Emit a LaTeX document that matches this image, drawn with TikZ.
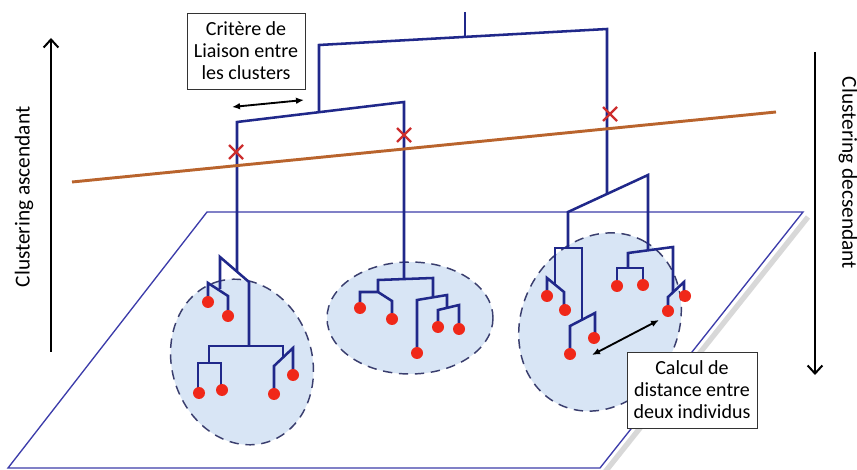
\documentclass[tikz,border=0pt]{standalone}
\usepackage{fontspec}
\setmainfont{Carlito}
\usepackage{xcolor}
\usetikzlibrary{arrows.meta, positioning}

\definecolor{dendro}{RGB}{32,40,138}
\definecolor{planeedge}{RGB}{60,60,170}
\definecolor{clusterfill}{RGB}{216,229,245}
\definecolor{clusteredge}{RGB}{58,62,110}
\definecolor{cutline}{RGB}{185,100,45}
\definecolor{cutmark}{RGB}{205,45,45}
\definecolor{leaf}{RGB}{240,40,25}

\tikzset{
  branch/.style={dendro, line width=1.9pt, line join=miter},
  infobox/.style={draw=black!80, line width=0.6pt, fill=white, align=center,
    inner sep=2pt, minimum height=57pt, font=\fontsize{15}{16.5}\selectfont},
  cluster/.style={clusteredge, line width=1.1pt, fill=clusterfill, dash pattern=on 7pt off 5pt},
  duo/.style={{Latex[length=6pt,width=5pt]}-{Latex[length=6pt,width=5pt]}, line width=1.4pt},
  bigarrow/.style={-{Straight Barb[length=6pt,width=11pt]}, line width=1.5pt}
}

\begin{document}
\begin{tikzpicture}[x=0.75pt,y=-0.75pt]
		\useasboundingbox (0,0) rectangle (857,470);
		
		% Plane
		\draw[black!30, line width=4pt, opacity=0.5] (808,217) -- (605,472);
		\draw[planeedge, line width=1pt, fill=white] (207,212) -- (803,212) -- (600,468) -- (8,468) -- cycle;
		
		% Clusters
		\draw[cluster] (242,362) ellipse[x radius=84, y radius=70, rotate=108];
		\draw[cluster] (410,318) ellipse[x radius=83, y radius=56];
		\draw[cluster] (600,322) ellipse[x radius=92, y radius=78, rotate=62];
		
		% Top of the tree
		\draw[branch] (465,12) -- (465,37);
		\draw[branch] (319,112) -- (319,45) -- (607,29) -- (607,194);
		\draw[branch] (237,271) -- (237,122) -- (404,102) -- (404,279);
		
		% Left cluster
		\draw[branch] (220,289) -- (220,257) -- (249,282) -- (249,346);
		\draw[branch] (208,302) -- (208,283) -- (228,296) -- (228,316);
		\draw[branch] (209,363) -- (209,346) -- (283,346) -- (283,357);
		\draw[branch] (274,394) -- (274,366) -- (293,348) -- (293,375);
		\draw[branch] (198,393) -- (198,363) -- (221,363) -- (221,390);
		
		% Middle cluster
		\draw[branch] (378,292) -- (378,280) -- (433,278) -- (433,297);
		\draw[branch] (360,308) -- (360,292) -- (378,292) -- (392,301) -- (392,319);
		\draw[branch] (417,353) -- (417,300) -- (447,295) -- (447,309);
		\draw[branch] (438,327) -- (438,310) -- (459,305) -- (459,329);
		
		% Right cluster
		\draw[branch] (568,248) -- (568,212) -- (648,175) -- (648,250);
		\draw[branch] (555,285) -- (555,248) -- (582,248) -- (582,320);
		\draw[branch] (547,296) -- (547,278) -- (564,292) -- (564,310);
		\draw[branch] (570,354) -- (570,326) -- (595,313) -- (595,338);
		\draw[branch] (628,268) -- (628,253) -- (673,247) -- (673,292);
		\draw[branch] (617,286) -- (617,268) -- (643,268) -- (643,285);
		\draw[branch] (668,311) -- (668,297) -- (684,282) -- (684,296);
		
		% Cut line
		\draw[cutline, line width=2.2pt] (72,182) -- (776,112);
		\foreach \cx/\cy in {236/152, 404/135, 610/114}
		\draw[cutmark, line width=1.8pt] (\cx-7,\cy-7) -- (\cx+7,\cy+7) (\cx-7,\cy+7) -- (\cx+7,\cy-7);
		
		% Individuals
		\foreach \px/\py in {208/302, 228/316, 199/393, 222/390, 274/394, 293/375,
			360/308, 392/319, 417/353, 438/327, 459/329,
			547/296, 565/310, 570/354, 594/338, 617/286, 643/285, 668/311, 685/296}
		\fill[leaf] (\px,\py) circle (6);
		
		% Labels
		\node[infobox, minimum width=88.5pt] (linkage) at (246,51) {Critère de\\Liaison entre\\les clusters};
		\node[infobox, minimum width=97.5pt] (distance) at (692,390) {Calcul de\\distance entre\\deux individus};
		\coordinate (linkA) at (232,107);
		\coordinate (linkB) at (304,100);
		\draw[duo] (linkA) -- (linkB);
		\coordinate (distA) at (592,355);
		\coordinate (distB) at (659,320);
		\draw[duo] (distA) -- (distB);
		
		% Direction arrows
		\coordinate (ascBot) at (51,352);
		\coordinate (ascTop) at (51,38);
		\draw[bigarrow] (ascBot) -- (ascTop);
		\node[rotate=90, font=\fontsize{16}{18}\selectfont] (ascLabel) at (24,197) {Clustering ascendant};
		\coordinate (descTop) at (815,52);
		\coordinate (descBot) at (815,375);
		\draw[bigarrow] (descTop) -- (descBot);
		\node[rotate=-90, font=\fontsize{16}{18}\selectfont] (descLabel) at (848,173) {Clustering decsendant};
		
	\end{tikzpicture}
\end{document}
